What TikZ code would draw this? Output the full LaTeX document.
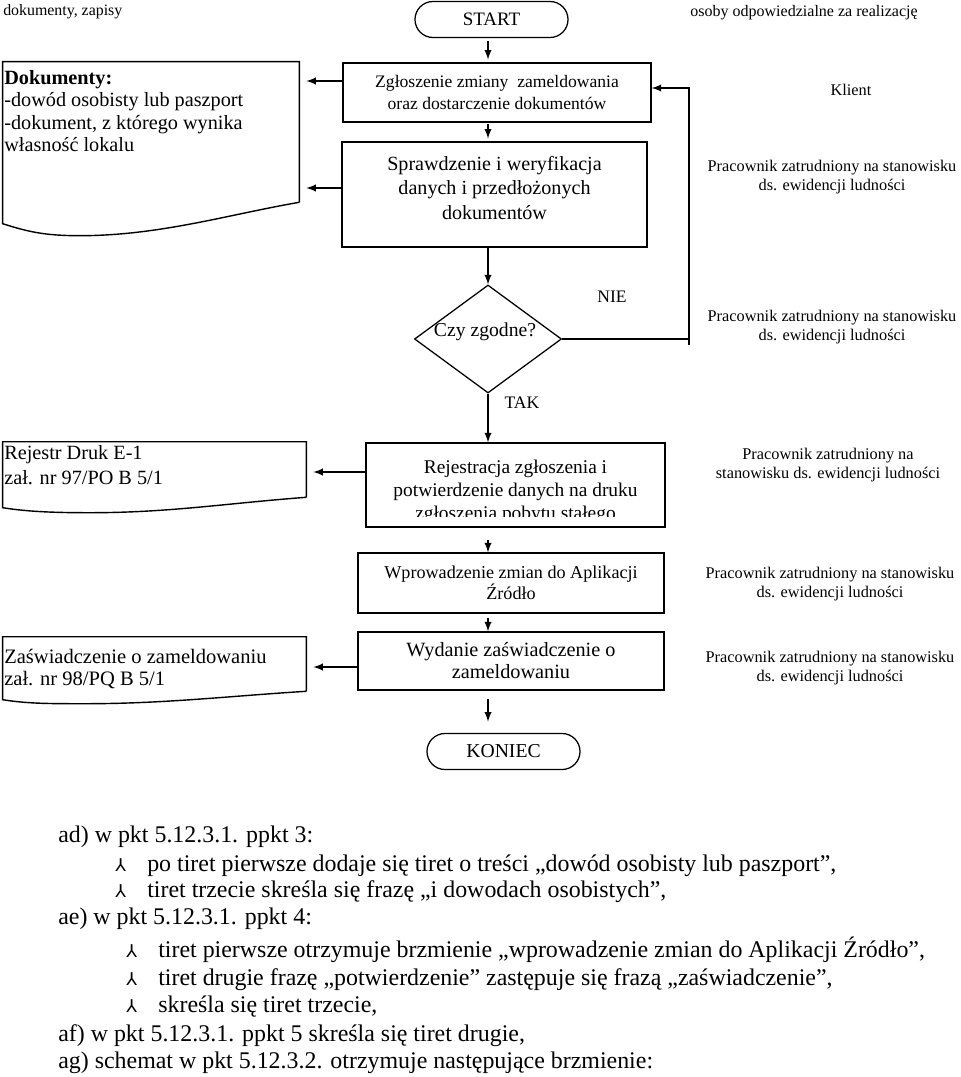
\documentclass[tikz,border=0pt]{standalone}
\usepackage{fontspec}
\setmainfont{Liberation Serif}
\newfontfamily\bulfont{DejaVu Sans}
\usetikzlibrary{shapes.geometric}
\newcommand\tiretmark{\makebox[0.8cm][l]{\bulfont\fontsize{12.5}{12.5}\selectfont ⅄}}

\begin{document}
\begin{tikzpicture}[x=0.025cm, y=-0.025cm,
  box/.style={draw, line width=0.9pt, inner sep=0pt, align=center},
  term/.style={draw, line width=0.9pt, rounded corners=0.45cm, minimum width=3.825cm, minimum height=0.9cm, inner sep=0pt},
  arr/.style={-latex, line width=1.3pt},
  who/.style={align=center, inner sep=0pt, font=\fontsize{11.6}{13.5}\selectfont},
  doctext/.style={align=left, anchor=west, inner sep=0pt},
  note/.style={anchor=base west, inner sep=0pt, font=\fontsize{17}{19}\selectfont}]
\useasboundingbox (0,0) rectangle (960,1077);
\coordinate (spine) at (488,0);
\coordinate (loop) at (689,345);

% column heads
\node[anchor=west, inner sep=0pt, font=\fontsize{11.3}{13}\selectfont] (hdocs) at (3,12) {dokumenty, zapisy};
\node[inner sep=0pt, font=\fontsize{11.4}{13}\selectfont] (hwho) at (804,13) {osoby odpowiedzialne za realizację};

% main flow
\node[term, font=\fontsize{13.5}{15}\selectfont] (start) at (491.5,19.5) {START};
\node[box, minimum width=7.7cm, minimum height=1.475cm, font=\fontsize{12.5}{15.6}\selectfont] (zgl) at (497,92.5) {Zgłoszenie zmiany\ \ zameldowania\\oraz dostarczenie dokumentów};
\node[box, minimum width=7.625cm, minimum height=2.625cm] (spr) at (494.5,194.5) {};
\node[inner sep=0pt, align=center, font=\fontsize{14.3}{17.4}\selectfont] (sprtxt) at (494.5,188) {Sprawdzenie i weryfikacja\\danych i przedłożonych\\dokumentów};
\node[draw, diamond, line width=0.9pt, minimum width=3.675cm, minimum height=2.7cm, inner sep=0pt] (dec) at (488,339) {};
\node[inner sep=0pt, font=\fontsize{14}{16}\selectfont] (dectxt) at (485,332) {Czy zgodne?};
\node[box, minimum width=7.475cm, minimum height=2.1cm] (rej) at (515.5,485) {};
\begin{scope}
  \clip (rej.north west) rectangle ([yshift=0.28cm]rej.south east);
  \node[inner sep=0pt, align=center, font=\fontsize{13.8}{16.4}\selectfont] (rejtxt) at (515.5,492) {Rejestracja zgłoszenia i\\potwierdzenie danych na druku\\zgłoszenia pobytu stałego};
\end{scope}
\node[box, minimum width=7.65cm, minimum height=1.5cm, font=\fontsize{12.9}{14.8}\selectfont] (apl) at (511,583) {Wprowadzenie zmian do Aplikacji\\Źródło};
\node[box, minimum width=7.65cm, minimum height=1.45cm, font=\fontsize{14.4}{15.6}\selectfont] (wyd) at (511,661) {Wydanie zaświadczenie o\\zameldowaniu};
\node[term, font=\fontsize{14}{16}\selectfont] (koniec) at (503.5,751.5) {KONIEC};

\node[inner sep=0pt, font=\fontsize{12.5}{14}\selectfont] (nie) at (612,297) {NIE};
\node[inner sep=0pt, font=\fontsize{12.5}{14}\selectfont] (tak) at (522,403) {TAK};

% documents
\node[minimum width=7.4cm, minimum height=3.5cm, inner sep=0pt] (doc1) at (151,132) {};
\draw[line width=1pt] (doc1.south east) -- (doc1.north east) -- (doc1.north west) -- ++(0,162) .. controls +(25,8) and +(-35,0) .. ++(77,12) .. controls +(80,0) and +(-70,12) .. (doc1.south east);
\node[doctext, font=\fontsize{14.4}{15.9}\selectfont] (doc1txt) at (4,111) {\textbf{Dokumenty:}\\-dowód osobisty lub paszport\\-dokument, z którego wynika\\własność lokalu};

\node[minimum width=7.575cm, minimum height=1.375cm, inner sep=0pt] (doc2) at (154.5,469.5) {};
\draw[line width=1pt] (doc2.south east) -- (doc2.north east) -- (doc2.north west) -- ++(0,66) .. controls +(25,4) and +(-35,0) .. ++(87,5) .. controls +(80,0) and +(-80,6) .. (doc2.south east);
\node[doctext, font=\fontsize{14.4}{17.8}\selectfont] (doc2txt) at (4,465) {Rejestr Druk E-1\\zał. nr 97/PO B 5/1};

\node[minimum width=7.575cm, minimum height=1.35cm, inner sep=0pt] (doc3) at (154.5,664) {};
\draw[line width=1pt] (doc3.south east) -- (doc3.north east) -- (doc3.north west) -- ++(0,63) .. controls +(25,4) and +(-35,0) .. ++(82,4) .. controls +(80,0) and +(-80,5) .. (doc3.south east);
\node[doctext, font=\fontsize{14.6}{15.6}\selectfont] (doc3txt) at (4,669) {Zaświadczenie o zameldowaniu\\zał. nr 98/PQ B 5/1};

% responsible persons
\node[who] (wkl) at (851,90) {Klient};
\node[who] (wspr) at (832,177.5) {Pracownik zatrudniony na stanowisku\\ds. ewidencji ludności};
\node[who] (wdec) at (832,327) {Pracownik zatrudniony na stanowisku\\ds. ewidencji ludności};
\node[who] (wrej) at (828,465) {Pracownik zatrudniony na\\stanowisku ds. ewidencji ludności};
\node[who] (wapl) at (830,584) {Pracownik zatrudniony na stanowisku\\ds. ewidencji ludności};
\node[who] (wwyd) at (830,668) {Pracownik zatrudniony na stanowisku\\ds. ewidencji ludności};

% arrows
\draw[arr, shorten <=2pt, shorten >=2pt] (start.south -| spine) -- (zgl.north -| spine);
\draw[arr, shorten <=1pt, shorten >=2pt] (zgl.south -| spine) -- (spr.north -| spine);
\draw[arr] (spr.south -| spine) -- (dec.north);
\draw[arr] (dec.south) -- (rej.north -| spine);
\draw[arr, shorten <=9pt] (rej.south -| spine) -- (apl.north -| spine);
\draw[arr, shorten <=3pt] (apl.south -| spine) -- (wyd.north -| spine);
\draw[arr, shorten <=6pt, shorten >=8pt] (wyd.south -| spine) -- (koniec.north -| spine);

\draw[line width=1.3pt] (dec.east) -- (dec.east -| loop);
\path (zgl.east) ++(0,-4.5) coordinate (zgle);
\draw[arr] (loop) |- (zgle);

\path (zgl.west) ++(0,-11.5) coordinate (zglw);
\draw[arr, shorten >=5pt] (zglw) -- (zglw -| doc1.east);
\path (spr.west) ++(0,-6.5) coordinate (sprw);
\draw[arr, shorten >=5pt] (sprw) -- (sprw -| doc1.east);
\path (rej.west) ++(0,-13) coordinate (rejw);
\draw[arr, shorten >=5pt] (rejw) -- (rejw -| doc2.east);
\path (wyd.west) ++(0,6) coordinate (wydw);
\draw[arr, shorten >=5pt] (wydw) -- (wydw -| doc3.east);

% amendment text
\node[note] (ad) at (58,842.5) {ad) w pkt 5.12.3.1. ppkt 3:};
\node[note] (ad1) at (115,871) {\tiretmark po tiret pierwsze dodaje się tiret o treści „dowód osobisty lub paszport”,};
\node[note] (ad2) at (115,897) {\tiretmark tiret trzecie skreśla się frazę „i dowodach osobistych”,};
\node[note] (ae) at (58,924) {ae) w pkt 5.12.3.1. ppkt 4:};
\node[note] (ae1) at (126,957) {\tiretmark tiret pierwsze otrzymuje brzmienie „wprowadzenie zmian do Aplikacji Źródło”,};
\node[note] (ae2) at (126,985) {\tiretmark tiret drugie frazę „potwierdzenie” zastępuje się frazą „zaświadczenie”,};
\node[note] (ae3) at (126,1012) {\tiretmark skreśla się tiret trzecie,};
\node[note] (af) at (58,1041) {af) w pkt 5.12.3.1. ppkt 5 skreśla się tiret drugie,};
\node[note] (ag) at (58,1068.5) {ag) schemat w pkt 5.12.3.2. otrzymuje następujące brzmienie:};
\end{tikzpicture}
\end{document}
